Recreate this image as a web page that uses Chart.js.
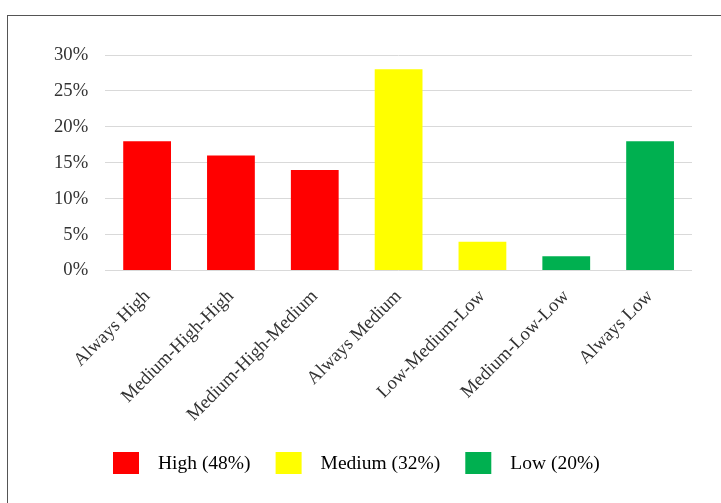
<!DOCTYPE html>
<html><head><meta charset="utf-8">
<script src="https://cdn.jsdelivr.net/npm/chart.js@4.4.1/dist/chart.umd.min.js"></script>
<style>
html,body{margin:0;padding:0;background:#fff;overflow:hidden;}
#wrap{position:relative;width:721px;height:503px;}
#frame{position:absolute;left:7px;top:15px;width:800px;height:600px;border:1px solid #555;box-sizing:border-box;}
canvas{position:absolute;left:0;top:0;}
</style></head><body>
<div id="wrap"><div id="frame"></div><canvas id="c" width="721" height="503"></canvas></div>
<script>
const categories = ['Always High','Medium-High-High','Medium-High-Medium','Always Medium','Low-Medium-Low','Medium-Low-Low','Always Low'];
const values = [18, 16, 14, 28, 4, 2, 18];
const barGroups = ['High','High','High','Medium','Medium','Low','Low'];
const groupNames = ['High','Medium','Low'];
const groupShares = [48, 32, 20];
const groupColors = {High:'#FF0000', Medium:'#FFFF00', Low:'#00B050'};
const yMin = 0, yMax = 30, yStep = 5;

const FONT = '"Liberation Serif", "Times New Roman", serif';

const legendPlugin = {
  id: 'customLegend',
  afterDraw(chart) {
    const ctx = chart.ctx;
    ctx.save();
    ctx.font = '19.5px ' + FONT;
    ctx.textBaseline = 'middle';
    ctx.textAlign = 'left';
    let x = 113;
    const cy = 463;
    groupNames.forEach((g, i) => {
      const label = g + ' (' + groupShares[i] + '%)';
      ctx.fillStyle = groupColors[g];
      ctx.fillRect(x, cy - 11, 26, 22);
      ctx.fillStyle = '#000';
      ctx.fillText(label, x + 45, cy + 1);
      x += 45 + ctx.measureText(label).width + 25;
    });
    ctx.restore();
  }
};

new Chart(document.getElementById('c'), {
  type: 'bar',
  data: {
    labels: categories,
    datasets: [{
      data: values,
      backgroundColor: barGroups.map(g => groupColors[g]),
      borderWidth: 0,
      categoryPercentage: 1,
      barPercentage: 0.57
    }]
  },
  options: {
    responsive: false,
    animation: false,
    layout: { padding: { left: 37, right: 29, top: 55, bottom: 70 } },
    plugins: { legend: { display: false }, tooltip: { enabled: false } },
    scales: {
      x: {
        grid: { display: false },
        border: { display: false },
        ticks: { minRotation: 45, maxRotation: 45, color: '#333', font: { family: FONT, size: 18.67 }, padding: 7 }
      },
      y: {
        min: yMin, max: yMax,
        grid: { color: '#d9d9d9', drawTicks: false, lineWidth: 1 },
        border: { display: false },
        ticks: { stepSize: yStep, padding: 17, color: '#333', font: { family: FONT, size: 18.67 },
          callback: v => v + '%' }
      }
    }
  },
  plugins: [legendPlugin]
});
</script>
</body></html>
